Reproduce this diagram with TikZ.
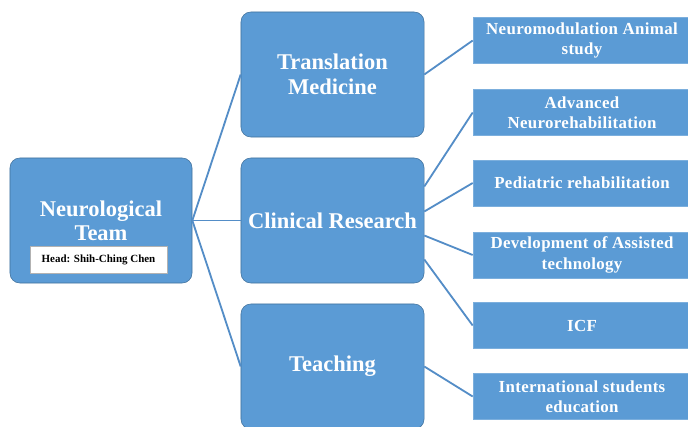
\documentclass[tikz,border=0pt]{standalone}
\usepackage{fontspec}
\setmainfont{Liberation Serif}
\newfontfamily\leaffont{Liberation Serif}[LetterSpace=2]
\usetikzlibrary{positioning,calc}
\definecolor{boxblue}{RGB}{91,155,213}
\definecolor{edgeblue}{RGB}{65,113,156}
\definecolor{linkblue}{RGB}{84,141,199}

\begin{document}
\begin{tikzpicture}[x=0.025cm,y=-0.025cm]
\tikzset{team/.style={draw=edgeblue,fill=boxblue,rounded corners=7pt,minimum width=4.55cm,minimum height=3.125cm,text=white,font=\fontsize{16}{17}\selectfont\bfseries,align=center,inner sep=0pt},
topic/.style={team,minimum width=4.575cm,font=\fontsize{16}{18}\selectfont\bfseries},
head/.style={draw=gray!60,fill=white,minimum width=3.425cm,minimum height=0.675cm,font=\fontsize{7.8}{9}\selectfont\bfseries,inner sep=0pt},
leaf/.style={draw=boxblue!80!white,fill=boxblue,minimum width=5.45cm,minimum height=1.15cm,text=white,font=\leaffont\fontsize{12}{14.5}\selectfont\bfseries,align=center,inner sep=1pt},
link/.style={draw=linkblue,line width=1.3pt}}
\useasboundingbox (0,0) rectangle (688,426);
% team and topics
\node[team] (root) at (101,220.5) {Neurological\\Team};
\node[head] (head) at (98.5,260) {Head: Shih-Ching Chen};
\node[topic] (trans) at (332.5,74.5) {Translation\\Medicine};
\node[topic] (clin) at (332.5,220.5) {Clinical Research};
\node[topic] (teach) at (332.5,366.5) {Teaching};
% leaves
\node[leaf] (animal) at (582,40.5) {Neuromodulation Animal\\study};
\node[leaf] (neuro) at (582,112.5) {Advanced\\Neurorehabilitation};
\node[leaf] (pedi) at (582,183) {Pediatric rehabilitation};
\node[leaf] (assist) at (582,255) {Development of Assisted\\technology};
\node[leaf] (icf) at (582,325.5) {ICF};
\node[leaf] (intl) at (582,396.5) {International students\\education};
% links
\draw[link] (root.east) -- (trans.west);
\draw[link] (root.east) -- (clin.west);
\draw[link] (root.east) -- (teach.west);
\draw[link] (trans.east) -- (animal.west);
\draw[link] ($(clin.east)+(0,-34)$) -- (neuro.west);
\draw[link] ($(clin.east)+(0,-9)$) -- (pedi.west);
\draw[link] ($(clin.east)+(0,15)$) -- (assist.west);
\draw[link] ($(clin.east)+(0,39)$) -- (icf.west);
\draw[link] (teach.east) -- (intl.west);
\end{tikzpicture}
\end{document}
